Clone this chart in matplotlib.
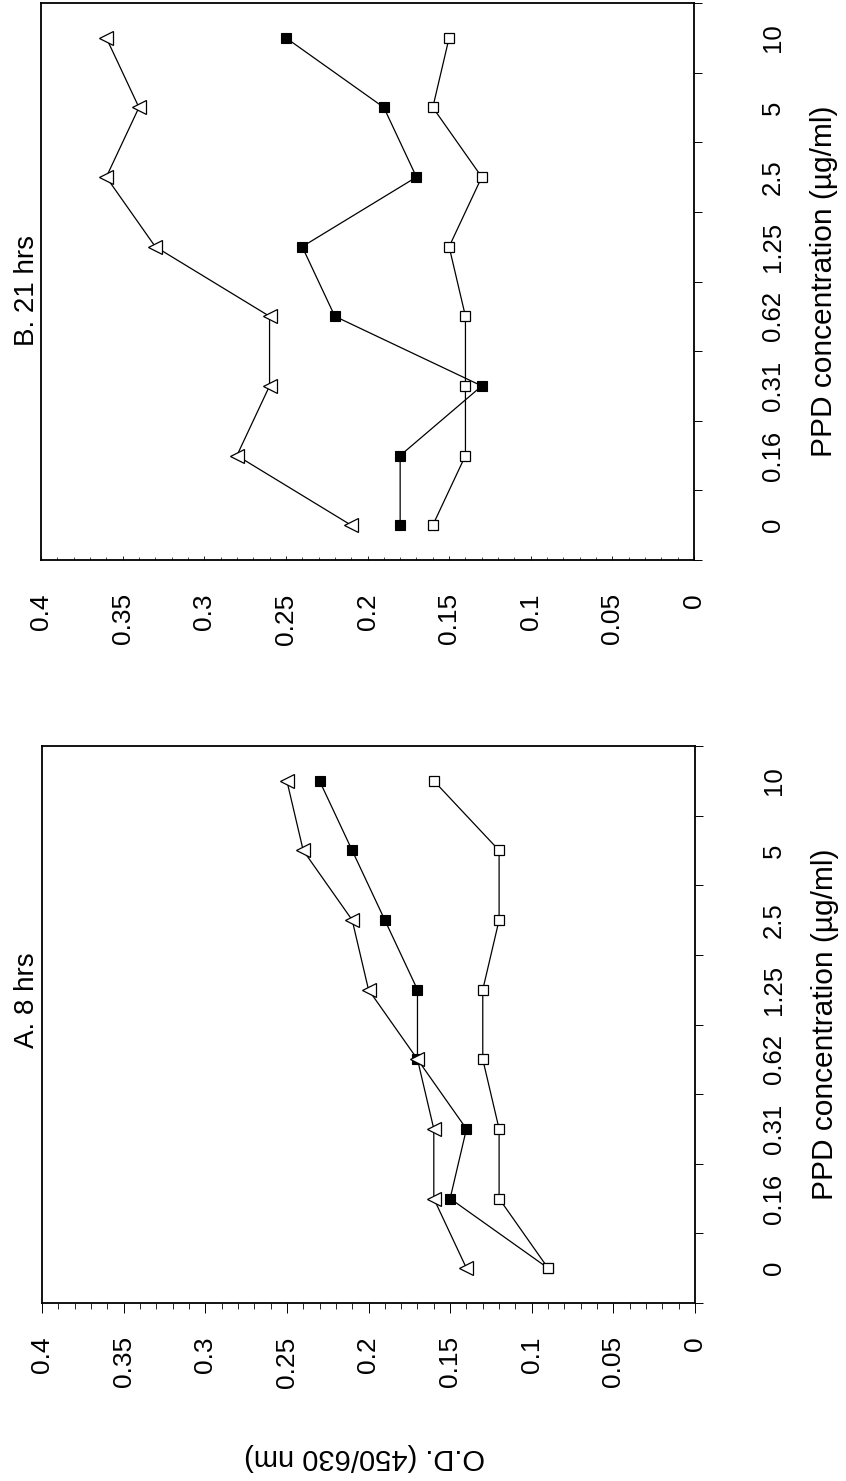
import matplotlib
matplotlib.use("Agg")
import matplotlib.pyplot as plt
from matplotlib.ticker import FixedLocator, MultipleLocator

plt.rcParams['font.family'] = ['Liberation Sans', 'DejaVu Sans']

# PPD concentrations (ug/ml), one category per tested dose
conc_labels = ["0", "0.16", "0.31", "0.62", "1.25", "2.5", "5", "10"]
od_ticks = [0, 0.05, 0.1, 0.15, 0.2, 0.25, 0.3, 0.35, 0.4]
od_tick_labels = ["0", "0.05", "0.1", "0.15", "0.2", "0.25", "0.3", "0.35", "0.4"]

# A. 8 hrs : O.D. (450/630 nm)
a_triangle = [0.14, 0.16, 0.16, 0.17, 0.20, 0.21, 0.24, 0.25]
a_filled = [0.09, 0.15, 0.14, 0.17, 0.17, 0.19, 0.21, 0.23]
a_open = [0.09, 0.12, 0.12, 0.13, 0.13, 0.12, 0.12, 0.16]

# B. 21 hrs : O.D. (450/630 nm)
b_triangle = [0.21, 0.28, 0.26, 0.26, 0.33, 0.36, 0.34, 0.36]
b_filled = [0.18, 0.18, 0.13, 0.22, 0.24, 0.17, 0.19, 0.25]
b_open = [0.16, 0.14, 0.14, 0.14, 0.15, 0.13, 0.16, 0.15]

W, H = 846, 1481
fig = plt.figure(figsize=(W / 100, H / 100), dpi=100)


def px_axes(left, top, right, bottom):
    return fig.add_axes([left / W, 1 - bottom / H, (right - left) / W, (bottom - top) / H])


def draw_panel(ax, tri, filled, opn, outward):
    pos = list(range(len(conc_labels)))
    lw = 0.9
    ax.plot(filled, pos, color='black', lw=lw, marker='s', ms=7.5,
            mfc='black', mec='black', mew=0.8, zorder=3)
    ax.plot(opn, pos, color='black', lw=lw, marker='s', ms=7.5,
            mfc='white', mec='black', mew=0.9, zorder=4)
    ax.plot(tri, pos, color='black', lw=lw, marker='<', ms=9.5,
            mfc='white', mec='black', mew=0.9, zorder=5)

    ax.set_xlim(0.4, 0)
    ax.set_ylim(-0.5, len(conc_labels) - 0.5)

    for s in ax.spines.values():
        s.set_linewidth(1.3)

    # O.D. axis (drawn horizontally, labels below the frame)
    ax.xaxis.set_major_locator(FixedLocator(od_ticks))
    ax.set_xticklabels(od_tick_labels, rotation=90, fontsize=19)
    ax.xaxis.set_minor_locator(MultipleLocator(0.01))
    if outward:
        ax.tick_params(axis='x', which='major', direction='out', length=7,
                       width=0.7, pad=17)
        ax.tick_params(axis='x', which='minor', direction='out', length=4.5,
                       width=0.6)
    else:
        ax.tick_params(axis='x', which='major', direction='in', length=3,
                       width=0.6, pad=24)
        ax.tick_params(axis='x', which='minor', direction='in', length=2,
                       width=0.5)

    # concentration axis on the right-hand side
    ax.yaxis.tick_right()
    ax.yaxis.set_label_position('right')
    ax.yaxis.set_major_locator(FixedLocator(pos))
    ax.set_yticklabels(conc_labels, rotation=90, fontsize=18.5, ha='center',
                       va='center')
    ax.yaxis.set_minor_locator(FixedLocator([p - 0.5 for p in pos] + [pos[-1] + 0.5]))
    ax.tick_params(axis='y', which='major', length=0, pad=57)
    ax.tick_params(axis='y', which='minor', direction='out', length=5.5,
                   width=0.7, right=True, left=False)
    ax.set_ylabel("PPD concentration (\u00b5g/ml)", fontsize=21.5)
    ax.yaxis.set_label_coords(1.178, 0.5)


ax_b = px_axes(41, 3, 694, 560)
draw_panel(ax_b, b_triangle, b_filled, b_open, outward=False)

ax_a = px_axes(42, 746, 695, 1303)
draw_panel(ax_a, a_triangle, a_filled, a_open, outward=True)

fig.text(27 / W, 1 - 1000 / H, "A. 8 hrs", rotation=90, ha='center',
         va='center', fontsize=20)
fig.text(27 / W, 1 - 290 / H, "B. 21 hrs", rotation=90, ha='center',
         va='center', fontsize=20)
fig.text(365 / W, 1 - 1457 / H, "O.D. (450/630 nm)", rotation=180,
         ha='center', va='center', fontsize=21)

fig.savefig("out.png", dpi=100)
